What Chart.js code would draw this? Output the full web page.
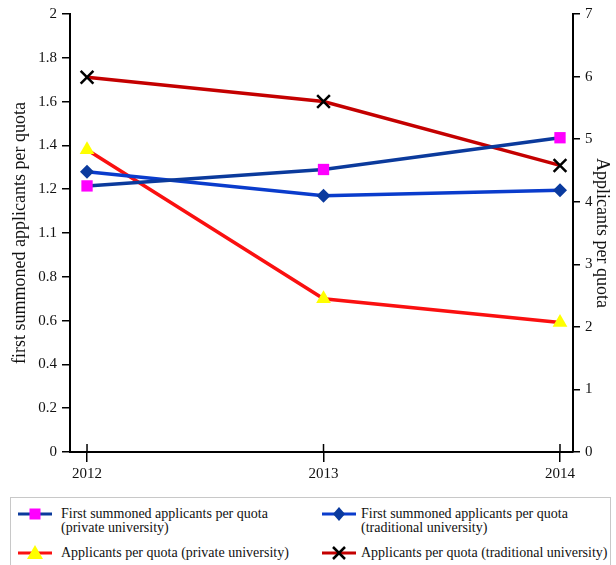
<!DOCTYPE html>
<html>
<head>
<meta charset="utf-8">
<script src="https://cdn.jsdelivr.net/npm/chart.js@4.4.1/dist/chart.umd.min.js"></script>
<style>
  body { margin: 0; background: #fff; }
  #wrap { position: relative; width: 616px; height: 565px; overflow: hidden; }
  #legend { position: absolute; left: 10px; top: 497px; width: 601px; height: 80px;
            border: 1px solid #c8c8c8; box-sizing: border-box;
            font-family: "Liberation Serif", serif; font-size: 14px; color: #111; }
  .item { position: absolute; line-height: 14px; }
  .mk { position: absolute; }
</style>
</head>
<body>
<div id="wrap">
  <canvas id="chart" width="616" height="490"></canvas>
  <div id="legend"></div>
</div>
<script>
var years = [2012, 2013, 2014];
var firstPrivate = [1.215, 1.29, 1.435];
var firstTraditional = [1.28, 1.17, 1.195];
var appsPrivate = [4.83, 2.45, 2.07];
var appsTraditional = [5.99, 5.6, 4.58];
var leftTickLabels = ['0', '0.2', '0.4', '0.6', '0.8', '1.1', '1.2', '1.4', '1.6', '1.8', '2'];
var rightTickLabels = ['0', '1', '2', '3', '4', '5', '6', '7'];

function points(vals) {
    return vals.map(function (v, i) { return { x: years[i], y: v }; });
}

Chart.defaults.font.family = "'Liberation Serif', serif";
Chart.defaults.font.size = 15;
Chart.defaults.color = '#111';

// little marks above the x axis at each year
var crossTicks = {
    id: 'crossTicks',
    afterDraw: function (chart) {
        var ctx = chart.ctx, xs = chart.scales.x, b = chart.chartArea.bottom;
        ctx.save();
        ctx.strokeStyle = '#000';
        ctx.lineWidth = 1.5;
        years.forEach(function (y) {
            var px = xs.getPixelForValue(y);
            ctx.beginPath();
            ctx.moveTo(px, b - 8);
            ctx.lineTo(px, b);
            ctx.stroke();
        });
        ctx.restore();
    }
};

var ctx = document.getElementById('chart');
var chart = new Chart(ctx, {
    type: 'line',
    data: {
        datasets: [{
            label: 'First summoned applicants per quota (private university)',
            data: points(firstPrivate),
            yAxisID: 'y',
            borderColor: '#0b3a9c',
            borderWidth: 3.5,
            pointStyle: 'rect',
            pointRadius: 8,
            pointBackgroundColor: '#ff00ff',
            pointBorderWidth: 0
        }, {
            label: 'First summoned applicants per quota (traditional university)',
            data: points(firstTraditional),
            yAxisID: 'y',
            borderColor: '#0a3ccc',
            borderWidth: 3.5,
            pointStyle: 'rectRot',
            pointRadius: 7,
            pointBackgroundColor: '#0a3a9e',
            pointBorderWidth: 0
        }, {
            label: 'Applicants per quota (private university)',
            data: points(appsPrivate),
            yAxisID: 'y1',
            borderColor: '#fa1010',
            borderWidth: 3.5,
            pointStyle: 'triangle',
            pointRadius: 8.5,
            pointBackgroundColor: '#ffff00',
            pointBorderWidth: 0
        }, {
            label: 'Applicants per quota (traditional university)',
            data: points(appsTraditional),
            yAxisID: 'y1',
            borderColor: '#c40000',
            borderWidth: 3.5,
            pointStyle: 'crossRot',
            pointRadius: 9,
            pointBorderColor: '#000',
            pointBorderWidth: 2.5
        }]
    },
    options: {
        responsive: false,
        animation: false,
        clip: false,
        layout: { padding: { top: 14, left: 0, right: 0, bottom: 0 } },
        plugins: { legend: { display: false }, tooltip: { enabled: false } },
        scales: {
            x: {
                type: 'linear',
                min: 2011.928,
                max: 2014.055,
                afterBuildTicks: function (s) { s.ticks = years.map(function (v) { return { value: v }; }); },
                afterFit: function (s) { s.height = 38; },
                ticks: { padding: 3, callback: function (v) { return String(v); } },
                grid: { drawOnChartArea: false, tickLength: 10, color: '#000', lineWidth: 1.5 },
                border: { color: '#000', width: 2 }
            },
            y: {
                position: 'left',
                min: 0,
                max: 2,
                afterFit: function (s) { s.width = 70; },
                ticks: { stepSize: 0.2, padding: 5,
                         callback: function (v, i) { return leftTickLabels[i]; } },
                grid: { drawOnChartArea: false, tickLength: 8, color: '#000', lineWidth: 1.5 },
                border: { color: '#000', width: 2 },
                title: { display: true, text: 'first summoned applicants per quota',
                         font: { size: 18 }, padding: { top: 9, bottom: 0 } }
            },
            y1: {
                position: 'right',
                min: 0,
                max: 7,
                afterFit: function (s) { s.width = 43; },
                ticks: { stepSize: 1, padding: 5,
                         callback: function (v, i) { return rightTickLabels[i]; } },
                grid: { drawOnChartArea: false, tickLength: 7, color: '#000', lineWidth: 1.5 },
                border: { color: '#000', width: 2 },
                title: { display: true, text: 'Applicants per quota',
                         font: { size: 18 }, padding: { top: 3, bottom: 0 } }
            }
        }
    },
    plugins: [crossTicks]
});

// html legend
var legendItems = [
    { lines: ['First summoned applicants per quota', '(private university)'], x: 50, y: 9, mx: 7, ds: 0 },
    { lines: ['First summoned applicants per quota', '(traditional university)'], x: 350, y: 9, mx: 311, ds: 1 },
    { lines: ['Applicants per quota (private university)'], x: 50, y: 48, mx: 7, ds: 2 },
    { lines: ['Applicants per quota (traditional university)'], x: 350, y: 48, mx: 311, ds: 3 }
];

function markerSvg(ds) {
    var d = chart.data.datasets[ds];
    var s = '<svg width="36" height="20" viewBox="0 0 36 20">';
    s += '<line x1="0" y1="10" x2="34" y2="10" stroke="' + d.borderColor + '" stroke-width="3"/>';
    if (d.pointStyle === 'rect') s += '<rect x="11.5" y="4.5" width="11" height="11" fill="' + d.pointBackgroundColor + '"/>';
    if (d.pointStyle === 'rectRot') s += '<polygon points="17,3 23,10 17,17 11,10" fill="' + d.pointBackgroundColor + '"/>';
    if (d.pointStyle === 'triangle') s += '<polygon points="17,2 25,16 9,16" fill="' + d.pointBackgroundColor + '"/>';
    if (d.pointStyle === 'crossRot') s += '<path d="M11,4 L23,16 M23,4 L11,16" stroke="#000" stroke-width="2.5"/>';
    return s + '</svg>';
}

var legend = document.getElementById('legend');
legendItems.forEach(function (it) {
    var mk = document.createElement('div');
    mk.className = 'mk';
    mk.style.left = it.mx + 'px';
    mk.style.top = (it.y - 3) + 'px';
    mk.innerHTML = markerSvg(it.ds);
    legend.appendChild(mk);
    var tx = document.createElement('div');
    tx.className = 'item';
    tx.style.left = it.x + 'px';
    tx.style.top = it.y + 'px';
    tx.innerHTML = it.lines.join('<br>');
    legend.appendChild(tx);
});
</script>
</body>
</html>
